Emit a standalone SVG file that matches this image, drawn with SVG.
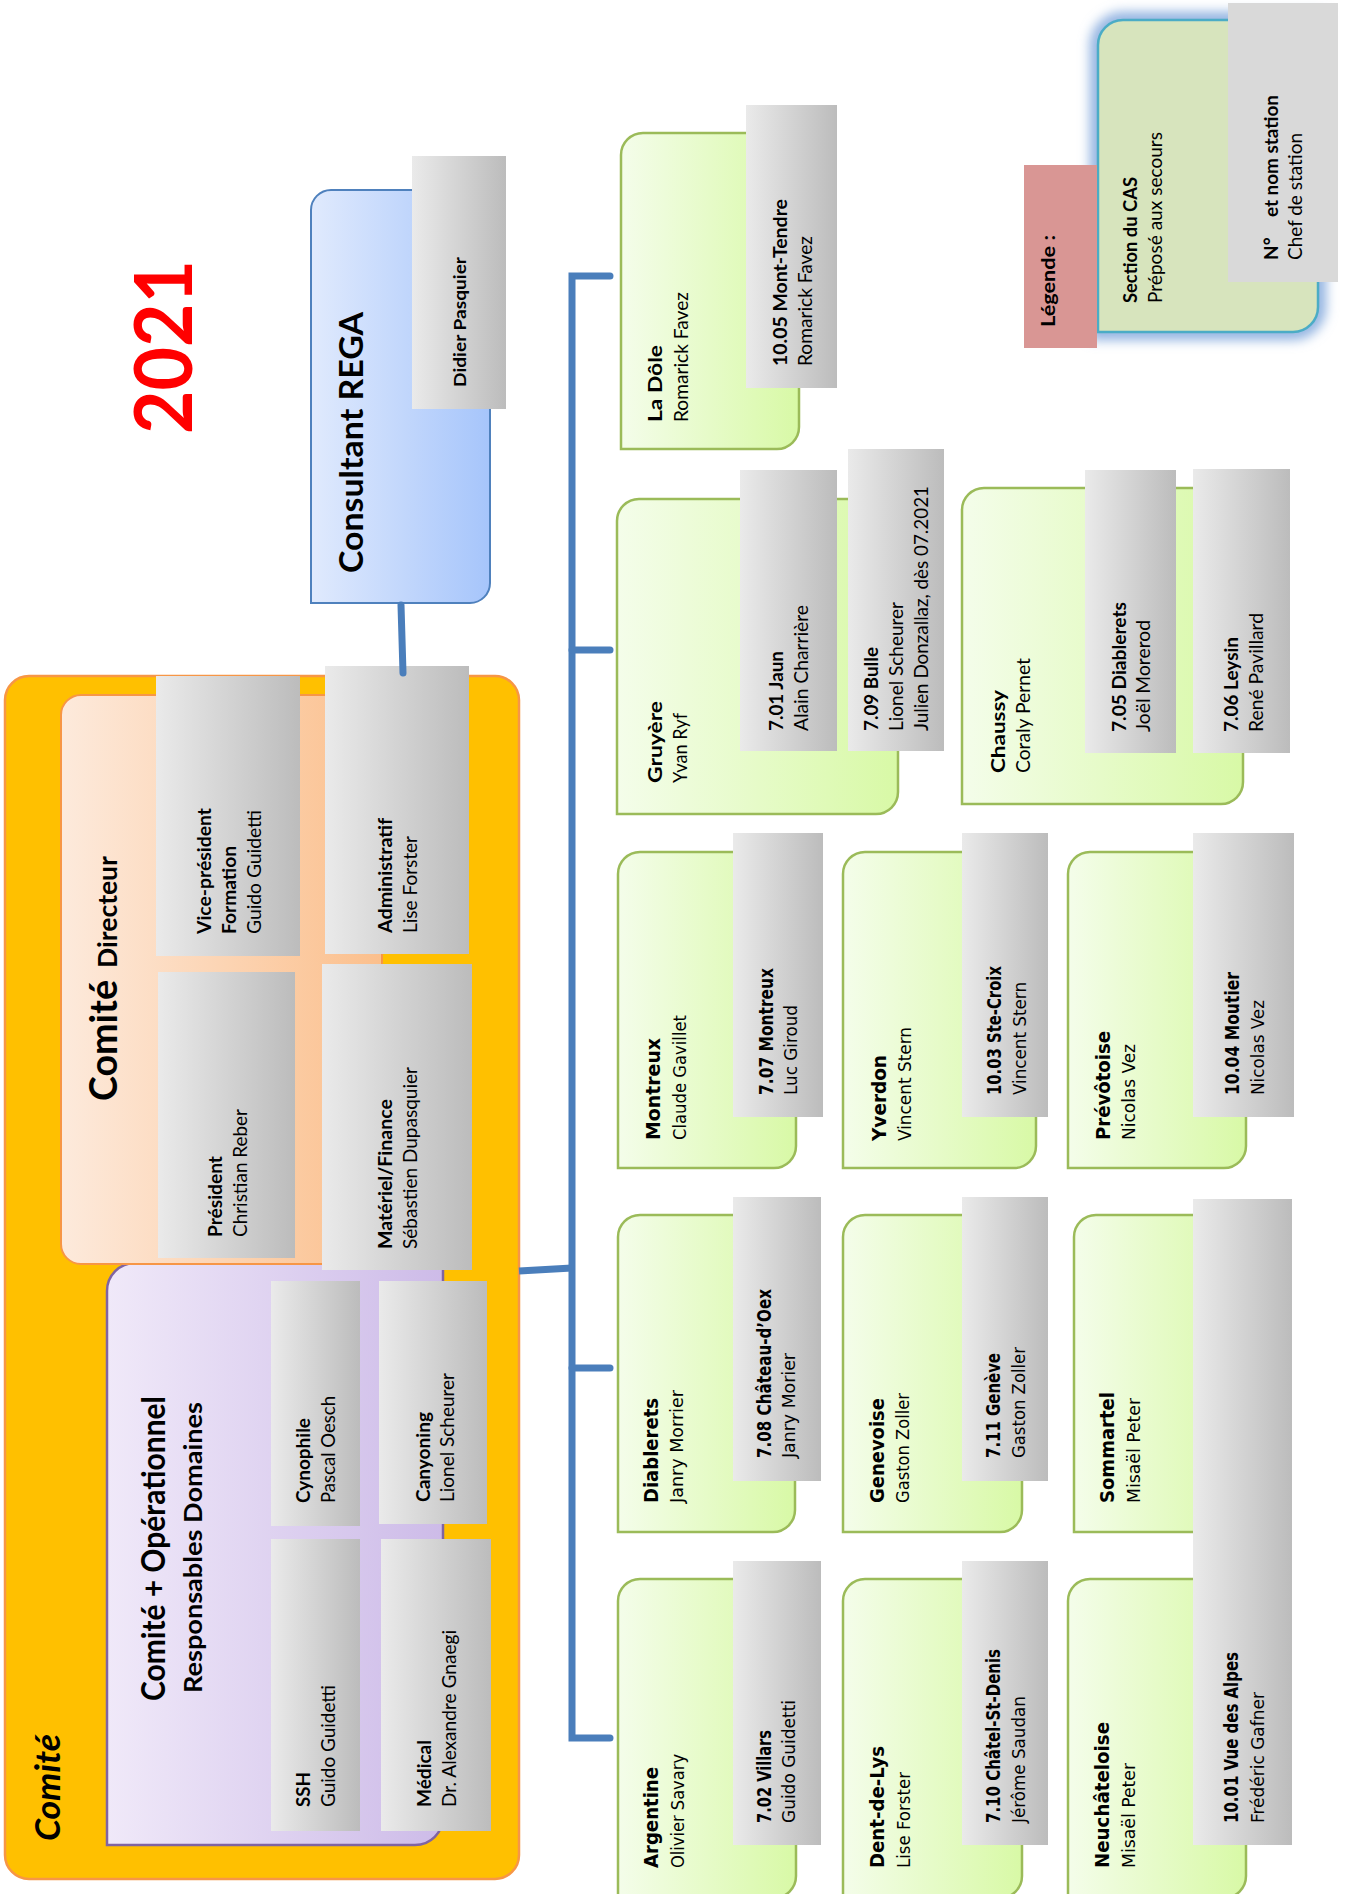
<svg xmlns="http://www.w3.org/2000/svg" width="1346" height="1894" viewBox="0 0 1346 1894">
<defs>
<linearGradient id="gGray" x1="0" y1="0" x2="1" y2="0"><stop offset="0" stop-color="#eaeaea"/><stop offset="1" stop-color="#bcbcbc"/></linearGradient>
<linearGradient id="gGreen" x1="0" y1="0" x2="1" y2="0"><stop offset="0" stop-color="#f4fdea"/><stop offset="1" stop-color="#d8f9a6"/></linearGradient>
<linearGradient id="gBlue" x1="0" y1="0" x2="1" y2="0"><stop offset="0" stop-color="#e0eafd"/><stop offset="1" stop-color="#a6c5fb"/></linearGradient>
<linearGradient id="gPeach" x1="0" y1="0" x2="1" y2="0"><stop offset="0" stop-color="#fdeadc"/><stop offset="1" stop-color="#fbbf8c"/></linearGradient>
<linearGradient id="gPurple" x1="0" y1="0" x2="1" y2="0"><stop offset="0" stop-color="#f0e9f9"/><stop offset="1" stop-color="#cdbbe8"/></linearGradient>
<filter id="glow" x="-20%" y="-20%" width="140%" height="140%"><feGaussianBlur stdDeviation="6"/></filter>
<style>
.t{font-family:Lato,"Liberation Sans",sans-serif;font-size:19px;fill:#000}
.v{font-family:"DejaVu Sans Condensed","DejaVu Sans",Verdana,sans-serif;font-stretch:condensed;font-size:18px;fill:#000}
.b{font-weight:bold}
.gray{fill:url(#gGray)}
.green{fill:url(#gGreen);stroke:#9bbb59;stroke-width:2.5}
.conn{fill:none;stroke:#4a7ebb;stroke-width:7;stroke-linecap:round}
</style>
</defs>

<!-- Title -->
<g id="title"><text class="t b" style="font-size:80px;fill:#ff0000" transform="translate(192,434) rotate(-90)" textLength="174" lengthAdjust="spacingAndGlyphs">2021</text></g>

<!-- Legend -->
<g id="legend">
<path d="M1123,20 H1318 V307 A25,25 0 0 1 1293,332 H1098 V45 A25,25 0 0 1 1123,20 Z" fill="none" stroke="#8fb1e0" stroke-width="16" filter="url(#glow)"/>
<path d="M1123,20 H1318 V307 A25,25 0 0 1 1293,332 H1098 V45 A25,25 0 0 1 1123,20 Z" fill="#d7e4bd" stroke="#4bacc6" stroke-width="2.5"/>
<rect x="1024" y="165" width="73" height="183" fill="#d99694"/>
<rect x="1228" y="3" width="110" height="279" fill="#d9d9d9"/>
<text class="t b" transform="translate(1055,327) rotate(-90)" textLength="92" lengthAdjust="spacingAndGlyphs">Légende :</text>
<text class="t b" transform="translate(1137,303) rotate(-90)" textLength="126" lengthAdjust="spacingAndGlyphs">Section du CAS</text>
<text class="t" transform="translate(1162,303) rotate(-90)" textLength="171" lengthAdjust="spacingAndGlyphs">Préposé aux secours</text>
<text class="t b" transform="translate(1278,260) rotate(-90)">N°</text>
<text class="t b" transform="translate(1278,217) rotate(-90)" textLength="122" lengthAdjust="spacingAndGlyphs">et nom station</text>
<text class="t" transform="translate(1302,260) rotate(-90)" textLength="127" lengthAdjust="spacingAndGlyphs">Chef de station</text>
</g>

<!-- Consultant REGA -->
<g id="consultant">
<path d="M331,190 H490 V583 A20,20 0 0 1 470,603 H311 V210 A20,20 0 0 1 331,190 Z" fill="url(#gBlue)" stroke="#4f81bd" stroke-width="2"/>
<text class="t b" style="font-size:32px" transform="translate(363,573) rotate(-90)" textLength="261" lengthAdjust="spacingAndGlyphs">Consultant REGA</text>
</g>
<g id="didier">
<rect class="gray" x="412" y="156" width="94" height="253"/>
<text class="t b" style="font-size:17px" transform="translate(466,387) rotate(-90)" textLength="130" lengthAdjust="spacingAndGlyphs">Didier Pasquier</text>
</g>

<!-- Comité -->
<g id="comite">
<rect x="5" y="676" width="514" height="1203" rx="24" fill="#ffc000" stroke="#f79646" stroke-width="2.5"/>
<text class="t b" style="font-size:34px;font-style:italic" transform="translate(60,1841) rotate(-90)" textLength="107" lengthAdjust="spacingAndGlyphs">Comité</text>
</g>
<g id="operationnel">
<path d="M135,1263 H443 V1817 A28,28 0 0 1 415,1845 H107 V1291 A28,28 0 0 1 135,1263 Z" fill="url(#gPurple)" stroke="#8064a2" stroke-width="2.5"/>
<text class="t b" style="font-size:32px" transform="translate(165,1701) rotate(-90)" textLength="305" lengthAdjust="spacingAndGlyphs">Comité + Opérationnel</text>
<text class="t b" style="font-size:24px" transform="translate(202,1693) rotate(-90)" textLength="291" lengthAdjust="spacingAndGlyphs">Responsables Domaines</text>
</g>
<g id="directeur">
<rect x="61" y="695" width="321" height="569" rx="20" fill="url(#gPeach)" stroke="#f79646" stroke-width="2"/>
<text class="t b" style="font-size:38px" transform="translate(117,1101) rotate(-90)" textLength="121" lengthAdjust="spacingAndGlyphs">Comité</text>
<text class="t b" style="font-size:26px" transform="translate(117,968) rotate(-90)" textLength="112" lengthAdjust="spacingAndGlyphs">Directeur</text>
</g>
<g id="vicepresident">
<rect class="gray" x="156" y="676" width="144" height="280"/>
<text class="t b" transform="translate(211,934) rotate(-90)" textLength="126" lengthAdjust="spacingAndGlyphs">Vice-président</text>
<text class="t b" transform="translate(236,934) rotate(-90)" textLength="88" lengthAdjust="spacingAndGlyphs">Formation</text>
<text class="t" transform="translate(261,934) rotate(-90)" textLength="124" lengthAdjust="spacingAndGlyphs">Guido Guidetti</text>
</g>
<g id="president">
<rect class="gray" x="158" y="972" width="137" height="286"/>
<text class="t b" transform="translate(222,1237) rotate(-90)" textLength="81" lengthAdjust="spacingAndGlyphs">Président</text>
<text class="t" transform="translate(247,1237) rotate(-90)" textLength="128" lengthAdjust="spacingAndGlyphs">Christian Reber</text>
</g>
<g id="administratif">
<rect class="gray" x="325" y="666" width="144" height="288"/>
<text class="t b" transform="translate(392,933) rotate(-90)" textLength="115" lengthAdjust="spacingAndGlyphs">Administratif</text>
<text class="t" transform="translate(417,933) rotate(-90)" textLength="97" lengthAdjust="spacingAndGlyphs">Lise Forster</text>
</g>
<g id="materiel">
<rect class="gray" x="322" y="964" width="150" height="306"/>
<text class="t b" transform="translate(392,1249) rotate(-90)" textLength="150" lengthAdjust="spacingAndGlyphs">Matériel/Finance</text>
<text class="t" transform="translate(417,1249) rotate(-90)" textLength="182" lengthAdjust="spacingAndGlyphs">Sébastien Dupasquier</text>
</g>
<g id="cynophile">
<rect class="gray" x="271" y="1281" width="89" height="245"/>
<text class="t b" transform="translate(310,1503) rotate(-90)" textLength="85" lengthAdjust="spacingAndGlyphs">Cynophile</text>
<text class="t" transform="translate(335,1503) rotate(-90)" textLength="107" lengthAdjust="spacingAndGlyphs">Pascal Oesch</text>
</g>
<g id="ssh">
<rect class="gray" x="271" y="1539" width="89" height="292"/>
<text class="t b" transform="translate(310,1807) rotate(-90)" textLength="35" lengthAdjust="spacingAndGlyphs">SSH</text>
<text class="t" transform="translate(335,1807) rotate(-90)" textLength="122" lengthAdjust="spacingAndGlyphs">Guido Guidetti</text>
</g>
<g id="canyoning">
<rect class="gray" x="379" y="1281" width="108" height="243"/>
<text class="t b" transform="translate(430,1502) rotate(-90)" textLength="90" lengthAdjust="spacingAndGlyphs">Canyoning</text>
<text class="t" transform="translate(454,1502) rotate(-90)" textLength="129" lengthAdjust="spacingAndGlyphs">Lionel Scheurer</text>
</g>
<g id="medical">
<rect class="gray" x="381" y="1539" width="110" height="292"/>
<text class="t b" transform="translate(431,1807) rotate(-90)" textLength="67" lengthAdjust="spacingAndGlyphs">Médical</text>
<text class="t" transform="translate(456,1807) rotate(-90)" textLength="177" lengthAdjust="spacingAndGlyphs">Dr. Alexandre Gnaegi</text>
</g>

<!-- Sections -->
<g id="ladole">
<path class="green" d="M643,133 H799 V427 A22,22 0 0 1 777,449 H621 V155 A22,22 0 0 1 643,133 Z"/>
<text class="t b" transform="translate(662,422) rotate(-90)" textLength="77" lengthAdjust="spacingAndGlyphs">La Dôle</text>
<text class="t" transform="translate(688,422) rotate(-90)" textLength="130" lengthAdjust="spacingAndGlyphs">Romarick Favez</text>
</g>
<g id="s1005">
<rect class="gray" x="746" y="105" width="91" height="283"/>
<text class="t b" transform="translate(787,366) rotate(-90)" textLength="167" lengthAdjust="spacingAndGlyphs">10.05 Mont-Tendre</text>
<text class="t" transform="translate(812,366) rotate(-90)" textLength="130" lengthAdjust="spacingAndGlyphs">Romarick Favez</text>
</g>
<g id="gruyere">
<path class="green" d="M639,499 H898 V792 A22,22 0 0 1 876,814 H617 V521 A22,22 0 0 1 639,499 Z"/>
<text class="t b" transform="translate(662,783) rotate(-90)" textLength="82" lengthAdjust="spacingAndGlyphs">Gruyère</text>
<text class="t" transform="translate(687,783) rotate(-90)" textLength="70" lengthAdjust="spacingAndGlyphs">Yvan Ryf</text>
</g>
<g id="s701">
<rect class="gray" x="740" y="470" width="97" height="281"/>
<text class="t b" transform="translate(783,731) rotate(-90)" textLength="80" lengthAdjust="spacingAndGlyphs">7.01 Jaun</text>
<text class="t" transform="translate(808,731) rotate(-90)" textLength="126" lengthAdjust="spacingAndGlyphs">Alain Charrière</text>
</g>
<g id="s709">
<rect class="gray" x="848" y="449" width="96" height="302"/>
<text class="t b" transform="translate(878,731) rotate(-90)" textLength="84" lengthAdjust="spacingAndGlyphs">7.09 Bulle</text>
<text class="t" transform="translate(903,731) rotate(-90)" textLength="129" lengthAdjust="spacingAndGlyphs">Lionel Scheurer</text>
<text class="t" transform="translate(928,731) rotate(-90)" textLength="245" lengthAdjust="spacingAndGlyphs">Julien Donzallaz, dès 07.2021</text>
</g>
<g id="chaussy">
<path class="green" d="M984,488 H1243 V782 A22,22 0 0 1 1221,804 H962 V510 A22,22 0 0 1 984,488 Z"/>
<text class="t b" transform="translate(1005,773) rotate(-90)" textLength="83" lengthAdjust="spacingAndGlyphs">Chaussy</text>
<text class="t" transform="translate(1030,773) rotate(-90)" textLength="115" lengthAdjust="spacingAndGlyphs">Coraly Pernet</text>
</g>
<g id="s705">
<rect class="gray" x="1085" y="470" width="91" height="283"/>
<text class="t b" transform="translate(1126,732) rotate(-90)" textLength="130" lengthAdjust="spacingAndGlyphs">7.05 Diablerets</text>
<text class="t" transform="translate(1150,732) rotate(-90)" textLength="112" lengthAdjust="spacingAndGlyphs">Joël Morerod</text>
</g>
<g id="s706">
<rect class="gray" x="1193" y="469" width="97" height="284"/>
<text class="t b" transform="translate(1238,732) rotate(-90)" textLength="95" lengthAdjust="spacingAndGlyphs">7.06 Leysin</text>
<text class="t" transform="translate(1263,732) rotate(-90)" textLength="119" lengthAdjust="spacingAndGlyphs">René Pavillard</text>
</g>

<g id="montreux">
<path class="green" d="M640,852 H796 V1146 A22,22 0 0 1 774,1168 H618 V874 A22,22 0 0 1 640,852 Z"/>
<text class="v b" style="font-size:19px" transform="translate(660,1140) rotate(-90)" textLength="102" lengthAdjust="spacingAndGlyphs">Montreux</text>
<text class="v" transform="translate(686,1140) rotate(-90)" textLength="125" lengthAdjust="spacingAndGlyphs">Claude Gavillet</text>
</g>
<g id="s707">
<rect class="gray" x="733" y="833" width="90" height="284"/>
<text class="v b" style="font-size:19px" transform="translate(773,1095) rotate(-90)" textLength="127" lengthAdjust="spacingAndGlyphs">7.07 Montreux</text>
<text class="v" transform="translate(797,1095) rotate(-90)" textLength="90" lengthAdjust="spacingAndGlyphs">Luc Giroud</text>
</g>
<g id="yverdon">
<path class="green" d="M865,852 H1036 V1146 A22,22 0 0 1 1014,1168 H843 V874 A22,22 0 0 1 865,852 Z"/>
<text class="v b" style="font-size:19px" transform="translate(886,1141) rotate(-90)" textLength="86" lengthAdjust="spacingAndGlyphs">Yverdon</text>
<text class="v" transform="translate(911,1141) rotate(-90)" textLength="114" lengthAdjust="spacingAndGlyphs">Vincent Stern</text>
</g>
<g id="s1003">
<rect class="gray" x="962" y="833" width="86" height="284"/>
<text class="v b" style="font-size:19px" transform="translate(1001,1095) rotate(-90)" textLength="129" lengthAdjust="spacingAndGlyphs">10.03 Ste-Croix</text>
<text class="v" transform="translate(1026,1095) rotate(-90)" textLength="113" lengthAdjust="spacingAndGlyphs">Vincent Stern</text>
</g>
<g id="prevotoise">
<path class="green" d="M1090,852 H1246 V1146 A22,22 0 0 1 1224,1168 H1068 V874 A22,22 0 0 1 1090,852 Z"/>
<text class="v b" style="font-size:19px" transform="translate(1110,1140) rotate(-90)" textLength="109" lengthAdjust="spacingAndGlyphs">Prévôtoise</text>
<text class="v" transform="translate(1135,1140) rotate(-90)" textLength="96" lengthAdjust="spacingAndGlyphs">Nicolas Vez</text>
</g>
<g id="s1004">
<rect class="gray" x="1193" y="833" width="101" height="284"/>
<text class="v b" style="font-size:19px" transform="translate(1239,1095) rotate(-90)" textLength="123" lengthAdjust="spacingAndGlyphs">10.04 Moutier</text>
<text class="v" transform="translate(1264,1095) rotate(-90)" textLength="95" lengthAdjust="spacingAndGlyphs">Nicolas Vez</text>
</g>

<g id="diablerets">
<path class="green" d="M640,1215 H795 V1510 A22,22 0 0 1 773,1532 H618 V1237 A22,22 0 0 1 640,1215 Z"/>
<text class="v b" style="font-size:19px" transform="translate(658,1503) rotate(-90)" textLength="105" lengthAdjust="spacingAndGlyphs">Diablerets</text>
<text class="v" transform="translate(683,1503) rotate(-90)" textLength="113" lengthAdjust="spacingAndGlyphs">Janry Morrier</text>
</g>
<g id="s708">
<rect class="gray" x="733" y="1197" width="88" height="284"/>
<text class="v b" style="font-size:19px" transform="translate(771,1458) rotate(-90)" textLength="169" lengthAdjust="spacingAndGlyphs">7.08 Château-d’Oex</text>
<text class="v" transform="translate(795,1458) rotate(-90)" textLength="105" lengthAdjust="spacingAndGlyphs">Janry Morier</text>
</g>
<g id="genevoise">
<path class="green" d="M865,1215 H1022 V1510 A22,22 0 0 1 1000,1532 H843 V1237 A22,22 0 0 1 865,1215 Z"/>
<text class="v b" style="font-size:19px" transform="translate(884,1503) rotate(-90)" textLength="105" lengthAdjust="spacingAndGlyphs">Genevoise</text>
<text class="v" transform="translate(909,1503) rotate(-90)" textLength="110" lengthAdjust="spacingAndGlyphs">Gaston Zoller</text>
</g>
<g id="s711">
<rect class="gray" x="962" y="1197" width="86" height="284"/>
<text class="v b" style="font-size:19px" transform="translate(1000,1458) rotate(-90)" textLength="105" lengthAdjust="spacingAndGlyphs">7.11 Genève</text>
<text class="v" transform="translate(1025,1458) rotate(-90)" textLength="111" lengthAdjust="spacingAndGlyphs">Gaston Zoller</text>
</g>
<g id="sommartel">
<path class="green" d="M1096,1215 H1246 V1510 A22,22 0 0 1 1224,1532 H1074 V1237 A22,22 0 0 1 1096,1215 Z"/>
<text class="v b" style="font-size:19px" transform="translate(1114,1503) rotate(-90)" textLength="111" lengthAdjust="spacingAndGlyphs">Sommartel</text>
<text class="v" transform="translate(1140,1503) rotate(-90)" textLength="105" lengthAdjust="spacingAndGlyphs">Misaël Peter</text>
</g>

<g id="argentine">
<path class="green" d="M640,1579 H796 V1876 A22,22 0 0 1 774,1898 H618 V1601 A22,22 0 0 1 640,1579 Z"/>
<text class="v b" style="font-size:19px" transform="translate(658,1868) rotate(-90)" textLength="101" lengthAdjust="spacingAndGlyphs">Argentine</text>
<text class="v" transform="translate(684,1868) rotate(-90)" textLength="114" lengthAdjust="spacingAndGlyphs">Olivier Savary</text>
</g>
<g id="s702">
<rect class="gray" x="733" y="1561" width="88" height="284"/>
<text class="v b" style="font-size:19px" transform="translate(771,1823) rotate(-90)" textLength="93" lengthAdjust="spacingAndGlyphs">7.02 Villars</text>
<text class="v" transform="translate(795,1823) rotate(-90)" textLength="123" lengthAdjust="spacingAndGlyphs">Guido Guidetti</text>
</g>
<g id="dentdelys">
<path class="green" d="M865,1579 H1022 V1876 A22,22 0 0 1 1000,1898 H843 V1601 A22,22 0 0 1 865,1579 Z"/>
<text class="v b" style="font-size:19px" transform="translate(884,1868) rotate(-90)" textLength="122" lengthAdjust="spacingAndGlyphs">Dent-de-Lys</text>
<text class="v" transform="translate(910,1868) rotate(-90)" textLength="96" lengthAdjust="spacingAndGlyphs">Lise Forster</text>
</g>
<g id="s710">
<rect class="gray" x="962" y="1561" width="86" height="284"/>
<text class="v b" style="font-size:19px" transform="translate(1000,1823) rotate(-90)" textLength="174" lengthAdjust="spacingAndGlyphs">7.10 Châtel-St-Denis</text>
<text class="v" transform="translate(1025,1823) rotate(-90)" textLength="127" lengthAdjust="spacingAndGlyphs">Jérôme Saudan</text>
</g>
<g id="neuchateloise">
<path class="green" d="M1090,1579 H1246 V1876 A22,22 0 0 1 1224,1898 H1068 V1601 A22,22 0 0 1 1090,1579 Z"/>
<text class="v b" style="font-size:19px" transform="translate(1109,1868) rotate(-90)" textLength="146" lengthAdjust="spacingAndGlyphs">Neuchâteloise</text>
<text class="v" transform="translate(1135,1868) rotate(-90)" textLength="105" lengthAdjust="spacingAndGlyphs">Misaël Peter</text>
</g>
<g id="s1001">
<rect class="gray" x="1193" y="1199" width="99" height="646"/>
<text class="v b" style="font-size:19px" transform="translate(1238,1823) rotate(-90)" textLength="171" lengthAdjust="spacingAndGlyphs">10.01 Vue des Alpes</text>
<text class="v" transform="translate(1264,1823) rotate(-90)" textLength="131" lengthAdjust="spacingAndGlyphs">Frédéric Gafner</text>
</g>

<!-- Connectors -->
<g id="connectors">
<path class="conn" d="M401,605 L403,673"/>
<path class="conn" style="stroke-linecap:butt" d="M519,1271 L572,1268"/>
<path class="conn" style="stroke-linejoin:miter" d="M610,276 H572 V1738 H610"/>
<path class="conn" d="M572,650 H610"/>
<path class="conn" d="M572,1368 H610"/>
</g>
</svg>
